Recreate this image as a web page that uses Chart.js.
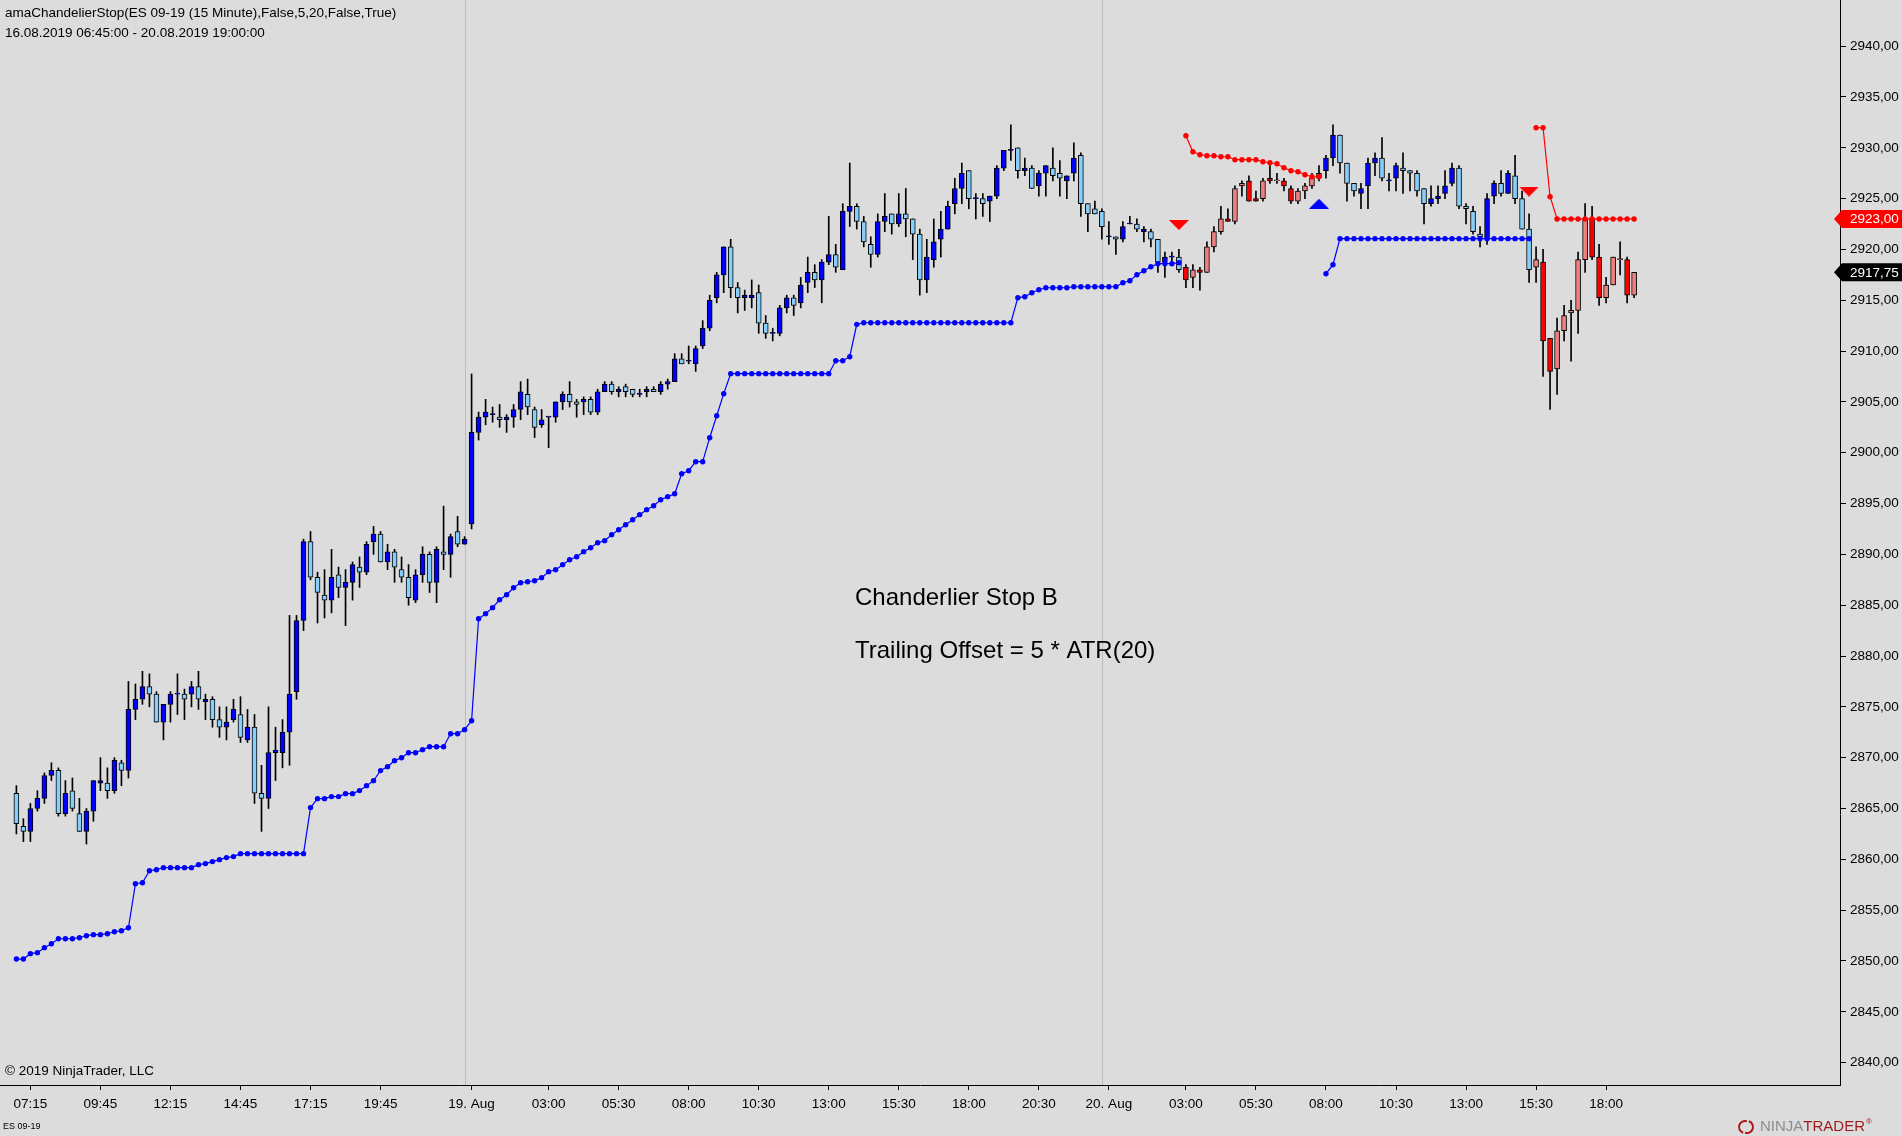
<!DOCTYPE html>
<html>
<head>
<meta charset="utf-8">
<title>amaChandelierStop ES 09-19</title>
<script src="https://cdn.jsdelivr.net/npm/chart.js@4.4.1/dist/chart.umd.min.js"></script>
<style>
  html, body { margin: 0; padding: 0; background: #dcdcdc; overflow: hidden; }
  #chart { display: block; }
</style>
</head>
<body>
<canvas id="chart" width="1902" height="1136"></canvas>
<script>
/* 15 minute bars, 16.08.2019 06:45 - 20.08.2019 19:00 (one value per bar) */
const opens = [
  2866.5, 2863.25, 2862.75, 2865, 2866, 2868.25, 2868.75, 2864.5, 2866.75, 2864.5,
  2862.75, 2864.75, 2867.5, 2867.5, 2866.75, 2869.5, 2868.75, 2874.75, 2875.75, 2877,
  2876.25, 2873.5, 2875.25, 2876.25, 2876.25, 2876.25, 2877, 2875.5, 2875.75, 2873.75,
  2873, 2873.75, 2874.25, 2871.75, 2873, 2866.5, 2866, 2870.5, 2870.5, 2872.5,
  2876.5, 2883.5, 2891.25, 2887.75, 2886, 2885.5, 2888, 2886.75, 2887.25, 2888.75,
  2888.25, 2891.25, 2892, 2889.25, 2890.25, 2888.5, 2887.75, 2885.5, 2888, 2890,
  2887.25, 2890.25, 2890, 2892.25, 2891, 2893, 2902, 2903.5, 2903.75, 2903.5,
  2903.25, 2903.5, 2904.25, 2905.75, 2904.25, 2902.75, 2903.5, 2903.5, 2905, 2905.75,
  2905, 2905, 2905.25, 2904, 2906, 2906.75, 2906, 2906.5, 2906.25, 2905.75,
  2906, 2906.25, 2906, 2906.75, 2907, 2909.25, 2909, 2908.75, 2910.5, 2912.25,
  2915.25, 2917.5, 2920.25, 2916.25, 2915.25, 2915.25, 2915.75, 2912.75, 2911.75, 2911.75,
  2914.25, 2915.25, 2914.75, 2916.75, 2917.75, 2917, 2918.75, 2919.5, 2918, 2923.75,
  2924.25, 2922.75, 2920.5, 2919.5, 2922.75, 2923.5, 2922.5, 2923.5, 2923, 2921.5,
  2917, 2919, 2921, 2922, 2924.5, 2926, 2927.75, 2925, 2925, 2924.75,
  2925.25, 2928, 2929.75, 2930, 2927.75, 2928, 2926.25, 2927.5, 2928, 2927.5,
  2926.75, 2927.5, 2929.25, 2924.5, 2924, 2923.75, 2921.25, 2921.25, 2921, 2922.5,
  2922.5, 2921.75, 2921.75, 2921, 2918.75, 2919.25, 2919.25, 2918.25, 2917.25, 2918,
  2917.75, 2920.25, 2921.75, 2923, 2922.75, 2926.25, 2926.75, 2925, 2925, 2927,
  2926.75, 2926.75, 2926, 2924.75, 2925.75, 2926.25, 2927, 2927.75, 2929, 2931.25,
  2928.5, 2926.5, 2925.5, 2926.25, 2928.5, 2929, 2926.75, 2927, 2928, 2927.75,
  2927.5, 2926, 2924.5, 2925, 2925.5, 2926.5, 2928, 2924.25, 2923.75, 2921.5,
  2921, 2925.25, 2926.5, 2925.5, 2927.25, 2925, 2922, 2918.25, 2918.75, 2911.25,
  2908.25, 2912, 2913.75, 2914, 2919, 2923, 2919.25, 2915.25, 2916.5, 2919,
  2919, 2915.5
];
const highs = [
  2867.25, 2864, 2865.5, 2866.75, 2868.5, 2869.5, 2869, 2867.75, 2868, 2866,
  2865, 2867.75, 2870, 2869, 2870, 2869.75, 2877.5, 2877.25, 2878.5, 2878.25,
  2876.5, 2875.25, 2876.5, 2878.25, 2876.75, 2877.5, 2878.5, 2876.25, 2876, 2875,
  2875, 2875.75, 2876, 2874.75, 2874.25, 2869.25, 2875, 2873, 2873.75, 2884,
  2884, 2891.5, 2892.25, 2888.25, 2888.5, 2890.5, 2888.75, 2888.5, 2889.25, 2889.75,
  2891.25, 2892.75, 2892.25, 2891, 2890.5, 2889.75, 2889, 2888.5, 2890.75, 2890.25,
  2890.75, 2894.75, 2892, 2893.75, 2891.75, 2907.75, 2904, 2905.25, 2904.5, 2904.75,
  2903.75, 2904.75, 2907, 2907.25, 2904.5, 2904.25, 2903.5, 2905, 2906, 2907,
  2905.25, 2905.5, 2905.5, 2906.25, 2907, 2907, 2906.5, 2906.75, 2906.25, 2906.25,
  2906.5, 2906.5, 2907, 2907.25, 2909.75, 2909.75, 2910.5, 2910.5, 2913, 2915.5,
  2917.75, 2920.25, 2921, 2916.75, 2916, 2917, 2916.5, 2913.5, 2912.25, 2914.5,
  2915.5, 2915.5, 2917.25, 2919.25, 2918.5, 2919, 2923.25, 2920.5, 2924.5, 2928.5,
  2924.5, 2923.25, 2921.25, 2923.5, 2925.5, 2923.5, 2925.5, 2926, 2923, 2922,
  2921, 2923, 2923.75, 2924.75, 2927, 2928.5, 2927.75, 2925.5, 2925.5, 2925.25,
  2928.25, 2929.75, 2932.25, 2930, 2929, 2928.25, 2927.75, 2928.25, 2930, 2928.75,
  2927.25, 2930.5, 2929.5, 2924.5, 2924.75, 2924, 2922.75, 2921.25, 2922.75, 2923.25,
  2923, 2922.25, 2922, 2921, 2919.75, 2919.75, 2920, 2918.5, 2918.5, 2918.25,
  2920.75, 2922.25, 2924.25, 2924, 2926.25, 2926.75, 2927.25, 2925.75, 2927, 2928.25,
  2927.5, 2927, 2926.25, 2926, 2926.5, 2927.5, 2928.25, 2929.25, 2932.25, 2931.25,
  2928.5, 2926.5, 2926.5, 2929, 2929.5, 2931, 2927.5, 2928.5, 2929.5, 2927.75,
  2927.75, 2926, 2926.25, 2926.25, 2927.75, 2928.5, 2928.25, 2924.5, 2924.25, 2922.25,
  2925.5, 2926.75, 2927.75, 2927.75, 2929.25, 2925.75, 2923.5, 2920.25, 2920, 2911.25,
  2913.25, 2914.5, 2915, 2919.75, 2924.5, 2924.25, 2920.5, 2917.25, 2919.25, 2920.75,
  2919.25, 2917.75
];
const lows = [
  2862.5, 2861.75, 2861.75, 2864.75, 2865.5, 2867.75, 2864.25, 2864.25, 2864.75, 2862.75,
  2861.5, 2863.75, 2866.75, 2866, 2866.5, 2867.25, 2868, 2873.75, 2875.25, 2875,
  2873.5, 2871.75, 2873.5, 2874.25, 2873.75, 2875, 2874.75, 2873.75, 2873, 2872,
  2871.75, 2873.5, 2871.5, 2871.5, 2865.5, 2862.75, 2865, 2867.75, 2869, 2869.25,
  2875.75, 2882.5, 2887.5, 2883.25, 2883.75, 2884.25, 2885.75, 2883, 2885.5, 2886.75,
  2888, 2890, 2889.25, 2888.5, 2887.25, 2887.25, 2885, 2885.25, 2887.25, 2886.25,
  2885.25, 2888.5, 2887.75, 2890.75, 2891, 2892.5, 2901.25, 2902.75, 2903, 2902.5,
  2902, 2902.5, 2903.25, 2903.75, 2901.5, 2902.5, 2900.5, 2903, 2904.25, 2904.5,
  2903.5, 2903.75, 2903.75, 2903.75, 2906, 2905.75, 2905.5, 2905.5, 2905.5, 2905.5,
  2905.5, 2906, 2905.75, 2906.25, 2907, 2908.75, 2908.75, 2908, 2910.25, 2912,
  2914.75, 2915.75, 2915.25, 2913.75, 2914, 2914.25, 2911.75, 2911.25, 2911, 2911.5,
  2913.75, 2913.5, 2914.25, 2915.75, 2916.25, 2914.75, 2918.5, 2917.75, 2918, 2922.25,
  2922, 2920.25, 2918.25, 2919.25, 2921.75, 2921.5, 2922.25, 2921.25, 2919, 2915.5,
  2915.75, 2918.25, 2919.25, 2922, 2923.5, 2924.5, 2924, 2923, 2923.25, 2922.75,
  2925, 2927.75, 2928.75, 2927, 2927.25, 2926, 2925.25, 2925.25, 2926.75, 2925.25,
  2925, 2926.75, 2923.25, 2921.75, 2923.5, 2921, 2920.5, 2919.5, 2920.75, 2922.5,
  2921.75, 2920.75, 2920.25, 2917.75, 2917.25, 2918.5, 2917.75, 2916.25, 2916.25, 2916,
  2917.75, 2919.75, 2921.5, 2922.75, 2922.5, 2925.25, 2924.75, 2924.75, 2924.75, 2926.5,
  2926.5, 2925.75, 2924.5, 2924.5, 2925, 2926, 2926.75, 2927, 2928.25, 2927.5,
  2924.75, 2925.25, 2924, 2924, 2927.25, 2926.75, 2925.75, 2925.75, 2925.5, 2925.75,
  2925.25, 2922.5, 2924.25, 2924.5, 2925, 2926.25, 2924, 2922.5, 2921.5, 2920.25,
  2920.5, 2924.5, 2925.25, 2925.5, 2924.5, 2922, 2916.75, 2916.75, 2907.5, 2904.25,
  2905.75, 2911, 2909, 2911.75, 2917.75, 2919, 2914.5, 2914.75, 2916.5, 2917.5,
  2914.75, 2915.25
];
const closes = [
  2863.5, 2862.75, 2865, 2866, 2868.25, 2868.75, 2864.5, 2866.5, 2865, 2862.75,
  2864.75, 2867.75, 2867.75, 2866.75, 2869.75, 2868.75, 2874.75, 2875.75, 2877, 2876.25,
  2873.5, 2875.25, 2876.25, 2876.25, 2875.75, 2877, 2875.75, 2875.75, 2873.75, 2873,
  2873.5, 2874.75, 2872, 2873, 2866.5, 2866, 2870.5, 2870.75, 2872.5, 2876.25,
  2883.5, 2891.25, 2887.75, 2886.25, 2885.5, 2887.75, 2886.75, 2887.25, 2889, 2888.25,
  2891, 2892, 2889.25, 2890.25, 2888.75, 2887.75, 2885.75, 2888, 2890, 2887.25,
  2890.5, 2890, 2891.75, 2891, 2891.5, 2902, 2903.5, 2904, 2903.75, 2903.25,
  2903.5, 2904.25, 2906, 2904.5, 2902.5, 2903.25, 2903.5, 2905, 2905.75, 2905,
  2904.75, 2905.25, 2904, 2906, 2906.75, 2906, 2906.25, 2906, 2905.75, 2905.75,
  2906.25, 2906, 2906.75, 2907, 2909.25, 2908.75, 2909, 2910.25, 2912.25, 2915,
  2917.5, 2920.25, 2916.25, 2915.25, 2915.5, 2915.5, 2912.75, 2911.75, 2911.75, 2914.25,
  2915.25, 2914.5, 2916.5, 2917.75, 2917, 2918.75, 2919.5, 2918.25, 2923.75, 2924.25,
  2922.75, 2920.75, 2919.5, 2922.75, 2923.25, 2922.5, 2923.5, 2923, 2921.5, 2917,
  2919.25, 2920.75, 2922, 2924.25, 2926, 2927.5, 2925, 2925, 2924.5, 2925.25,
  2928, 2929.75, 2929.75, 2927.75, 2928, 2926, 2927.5, 2928.25, 2927.25, 2927,
  2927.25, 2929, 2924.5, 2923.5, 2923.5, 2922.25, 2921.25, 2921, 2922.25, 2922.5,
  2922, 2922, 2921, 2918.75, 2919.25, 2919.25, 2918, 2917, 2918, 2917.75,
  2920.25, 2921.75, 2923, 2922.75, 2926, 2926.5, 2924.75, 2924.75, 2926.75, 2926.75,
  2926.75, 2926.25, 2924.75, 2925.75, 2926.25, 2927, 2927.5, 2929, 2931.25, 2928.5,
  2926.5, 2925.75, 2926, 2928.5, 2929, 2927, 2926.75, 2928.25, 2927.75, 2927.5,
  2925.75, 2924.5, 2925, 2925.25, 2926.25, 2928, 2924.25, 2924, 2921.75, 2921.25,
  2925, 2926.5, 2925.5, 2927.5, 2925, 2922, 2918, 2919, 2911, 2908,
  2912, 2913.5, 2914, 2919, 2923, 2919.25, 2915.25, 2916.5, 2919.25, 2919,
  2915.5, 2917.75
];

/* chandelier stop, long side (blue) and short side (red); each run starts at the bar in *Starts */
const longStarts = [0, 187];
const longStopA = [
  2850.19, 2850.19, 2850.72, 2850.82, 2851.31, 2851.70, 2852.19, 2852.19, 2852.19, 2852.29,
  2852.49, 2852.59, 2852.59, 2852.68, 2852.88, 2852.98, 2853.27, 2857.60, 2857.70, 2858.88,
  2858.98, 2859.18, 2859.18, 2859.18, 2859.18, 2859.18, 2859.48, 2859.58, 2859.78, 2859.97,
  2860.17, 2860.27, 2860.56, 2860.56, 2860.56, 2860.56, 2860.56, 2860.56, 2860.56, 2860.56,
  2860.56, 2860.56, 2865.09, 2865.97, 2865.97, 2866.17, 2866.17, 2866.46, 2866.46, 2866.76,
  2867.25, 2867.74, 2868.73, 2869.12, 2869.71, 2870.00, 2870.49, 2870.49, 2870.79, 2871.08,
  2871.08, 2871.08, 2872.36, 2872.36, 2872.76, 2873.64, 2883.67, 2884.17, 2884.76, 2885.54,
  2886.03, 2886.72, 2887.21, 2887.31, 2887.41, 2887.71, 2888.30, 2888.49, 2888.99, 2889.48,
  2889.77, 2890.27, 2890.66, 2891.15, 2891.35, 2891.94, 2892.43, 2892.92, 2893.41, 2893.91,
  2894.40, 2894.79, 2895.38, 2895.68, 2895.97, 2897.94, 2898.23, 2899.12, 2899.12, 2901.48,
  2903.64, 2905.81, 2907.78, 2907.78, 2907.78, 2907.78, 2907.78, 2907.78, 2907.78, 2907.78,
  2907.78, 2907.78, 2907.78, 2907.78, 2907.78, 2907.78, 2907.78, 2909.05, 2909.05, 2909.45,
  2912.63, 2912.79, 2912.79, 2912.79, 2912.79, 2912.79, 2912.79, 2912.79, 2912.79, 2912.79,
  2912.79, 2912.79, 2912.79, 2912.79, 2912.79, 2912.79, 2912.79, 2912.79, 2912.79, 2912.79,
  2912.79, 2912.79, 2912.79, 2915.25, 2915.35, 2915.74, 2916.04, 2916.23, 2916.23, 2916.23,
  2916.23, 2916.33, 2916.33, 2916.33, 2916.33, 2916.33, 2916.33, 2916.33, 2916.73, 2916.92,
  2917.51, 2917.91, 2918.30, 2918.60, 2918.60, 2918.60, 2918.70
];
const longStopB = [
  2917.61, 2918.50, 2921.06, 2921.06, 2921.06, 2921.06, 2921.06, 2921.06, 2921.06, 2921.06,
  2921.06, 2921.06, 2921.06, 2921.06, 2921.06, 2921.06, 2921.06, 2921.06, 2921.06, 2921.06,
  2921.06, 2921.06, 2921.06, 2921.06, 2921.06, 2921.06, 2921.06, 2921.06, 2921.06, 2921.06
];
const shortStarts = [167, 217];
const shortStopA = [
  2931.19, 2929.61, 2929.32, 2929.22, 2929.22, 2929.12, 2929.12, 2928.83, 2928.83, 2928.83,
  2928.83, 2928.63, 2928.53, 2928.43, 2928.04, 2927.74, 2927.65, 2927.35, 2927.15, 2927.15
];
const shortStopB = [
  2931.97, 2931.97, 2925.19, 2923, 2923, 2923, 2923, 2923, 2923, 2923,
  2923, 2923, 2923, 2923, 2923
];

/* reversal arrows: bar index and price */
const shortSignalBars = [166, 216];
const shortSignalPrices = [2922.4, 2925.7];
const longSignalBars = [186];
const longSignalPrices = [2924.5];

/* time axis */
const tickBars = [2, 12, 22, 32, 42, 52, 65, 76, 86, 96, 106, 116, 126, 136, 146, 156, 167, 177, 187, 197, 207, 217, 227];
const tickLabels = ['07:15', '09:45', '12:15', '14:45', '17:15', '19:45', '19. Aug', '03:00', '05:30', '08:00', '10:30',
  '13:00', '15:30', '18:00', '20:30', '20. Aug', '03:00', '05:30', '08:00', '10:30', '13:00', '15:30', '18:00'];
const sessionBreaks = [64, 155];

const titleLines = ['amaChandelierStop(ES 09-19 (15 Minute),False,5,20,False,True)', '16.08.2019 06:45:00 - 20.08.2019 19:00:00'];
const noteLines = ['Chanderlier Stop B', 'Trailing Offset = 5 * ATR(20)'];

const FONT = '"Liberation Sans", Arial, sans-serif';
Chart.defaults.font.family = FONT;

// helpers
const bars = opens.map((_, i) => i);

function runPoints(starts, runs) {
  const pts = [];
  runs.forEach((run, r) => {
    if (r > 0) pts.push({ x: starts[r] - 0.5, y: null });
    run.forEach((v, k) => pts.push({ x: starts[r] + k, y: v }));
  });
  return pts;
}
const longPts = runPoints(longStarts, [longStopA, longStopB]);
const shortPts = runPoints(shortStarts, [shortStopA, shortStopB]);

const shortSide = bars.map(() => false);
shortStarts.forEach((s, r) => {
  const run = r === 0 ? shortStopA : shortStopB;
  run.forEach((_, k) => { shortSide[s + k] = true; });
});

const bodyColors = bars.map(i => {
  const up = closes[i] >= opens[i];
  if (shortSide[i]) return up ? '#f08080' : '#ff0000';
  return up ? '#0000ff' : '#87cefa';
});

function arrow(color, down) {
  const c = document.createElement('canvas');
  c.width = 20; c.height = 10;
  const g = c.getContext('2d');
  g.fillStyle = color;
  g.beginPath();
  if (down) { g.moveTo(0, 0); g.lineTo(20, 0); g.lineTo(10, 10); }
  else { g.moveTo(10, 0); g.lineTo(20, 10); g.lineTo(0, 10); }
  g.closePath();
  g.fill();
  return c;
}

function fmt(v) { return v.toFixed(2).replace('.', ','); }

function priceTag(ctx, right, y, text, fill) {
  const h = 9;
  ctx.beginPath();
  ctx.moveTo(right - 6, y);
  ctx.lineTo(right + 2, y - h);
  ctx.lineTo(1902, y - h);
  ctx.lineTo(1902, y + h);
  ctx.lineTo(right + 2, y + h);
  ctx.closePath();
  ctx.fillStyle = fill;
  ctx.fill();
  ctx.fillStyle = '#ffffff';
  ctx.font = '13.5px ' + FONT;
  ctx.textAlign = 'left';
  ctx.textBaseline = 'middle';
  ctx.fillText(text, right + 10, y + 0.5);
}

const overlay = {
  id: 'overlay',
  beforeDatasetsDraw(chart) {
    const { ctx, chartArea: a, scales: { x } } = chart;
    ctx.save();
    ctx.strokeStyle = '#bcbcbc';
    ctx.lineWidth = 1;
    sessionBreaks.forEach(b => {
      const px = Math.round(x.getPixelForValue(b)) + 0.5;
      ctx.beginPath(); ctx.moveTo(px, a.top); ctx.lineTo(px, a.bottom); ctx.stroke();
    });
    ctx.restore();
  },
  afterDraw(chart) {
    const { ctx, chartArea: a, scales: { y } } = chart;
    ctx.save();
    ctx.fillStyle = '#000';
    ctx.textAlign = 'left';
    ctx.textBaseline = 'middle';
    ctx.font = '13.5px ' + FONT;
    ctx.fillText(titleLines[0], 5, 13.5);
    ctx.fillText(titleLines[1], 5, 33.5);
    ctx.fillText('\u00a9 2019 NinjaTrader, LLC', 5, 1071);

    ctx.font = '24px ' + FONT;
    ctx.fillText(noteLines[0], 855, 598);
    ctx.fillText(noteLines[1], 855, 651);

    ctx.font = '9px ' + FONT;
    ctx.fillText('ES 09-19', 3, 1127);

    // last values on the price axis
    const lastShort = shortStopB[shortStopB.length - 1];
    const lastClose = closes[closes.length - 1];
    priceTag(ctx, a.right, y.getPixelForValue(lastShort), fmt(lastShort), '#ff0000');
    priceTag(ctx, a.right, y.getPixelForValue(lastClose), fmt(lastClose), '#000000');

    // logo
    ctx.strokeStyle = '#b01818';
    ctx.lineWidth = 2;
    ctx.beginPath(); ctx.arc(1745, 1127, 6, 0.6 * Math.PI, 1.6 * Math.PI); ctx.stroke();
    ctx.beginPath(); ctx.arc(1747, 1127, 6, 1.6 * Math.PI, 2.6 * Math.PI); ctx.stroke();
    ctx.font = '15px ' + FONT;
    ctx.textBaseline = 'middle';
    ctx.fillStyle = '#8c8c8c';
    ctx.fillText('NINJA', 1760, 1127);
    const w = ctx.measureText('NINJA').width;
    ctx.fillStyle = '#9e1a1a';
    ctx.fillText('TRADER', 1760 + w, 1127);
    const w2 = ctx.measureText('TRADER').width;
    ctx.font = '8px ' + FONT;
    ctx.fillText('\u00ae', 1761 + w + w2, 1122);
    ctx.restore();
  }
};

new Chart(document.getElementById('chart').getContext('2d'), {
  type: 'bar',
  data: {
    datasets: [
      {
        type: 'line', label: 'short stop', data: shortPts, order: 1,
        borderColor: '#ff0000', borderWidth: 1.2, pointRadius: 2.7,
        pointBackgroundColor: '#ff0000', pointBorderWidth: 0, spanGaps: false
      },
      {
        type: 'line', label: 'long stop', data: longPts, order: 1,
        borderColor: '#0000ff', borderWidth: 1.2, pointRadius: 2.7,
        pointBackgroundColor: '#0000ff', pointBorderWidth: 0, spanGaps: false
      },
      {
        type: 'line', label: 'short signal', order: 0, showLine: false,
        data: shortSignalBars.map((b, k) => ({ x: b, y: shortSignalPrices[k] })),
        pointStyle: arrow('#ff0000', true), pointRadius: 10
      },
      {
        type: 'line', label: 'long signal', order: 0, showLine: false,
        data: longSignalBars.map((b, k) => ({ x: b, y: longSignalPrices[k] })),
        pointStyle: arrow('#0000ff', false), pointRadius: 10
      },
      {
        label: 'body', order: 2, grouped: false,
        data: bars.map(i => ({ x: i, y: [opens[i], closes[i]] })),
        backgroundColor: bodyColors, borderColor: '#000', borderWidth: 1,
        borderSkipped: false, barThickness: 5, minBarLength: 1
      },
      {
        label: 'wick', order: 3, grouped: false,
        data: bars.map(i => ({ x: i, y: [lows[i], highs[i]] })),
        backgroundColor: '#000', borderWidth: 0, barThickness: 1
      }
    ]
  },
  options: {
    responsive: false,
    devicePixelRatio: 1,
    animation: false,
    layout: { padding: 0, autoPadding: false },
    plugins: { legend: { display: false }, tooltip: { enabled: false } },
    scales: {
      x: {
        type: 'linear',
        offset: false,
        min: -2.34,
        max: 260.4,
        afterBuildTicks: s => { s.ticks = tickBars.map(v => ({ value: v })); },
        afterFit: s => { s.height = 51; s.paddingLeft = 0; s.paddingRight = 0; },
        grid: { drawOnChartArea: false, offset: false, color: '#000', tickLength: 5 },
        border: { color: '#000' },
        ticks: {
          autoSkip: false, maxRotation: 0, padding: 6, color: '#000',
          font: { size: 13.5 },
          callback: (v, i) => tickLabels[i]
        }
      },
      y: {
        position: 'right',
        min: 2837.8,
        max: 2944.54,
        afterFit: s => { s.width = 62; s.paddingTop = 0; s.paddingBottom = 0; },
        grid: { drawOnChartArea: false, color: '#000', tickLength: 6 },
        border: { color: '#000' },
        ticks: {
          stepSize: 5, includeBounds: false, padding: 4, color: '#000',
          font: { size: 13.5 },
          callback: v => fmt(v)
        }
      }
    }
  },
  plugins: [overlay]
});
</script>
</body>
</html>
